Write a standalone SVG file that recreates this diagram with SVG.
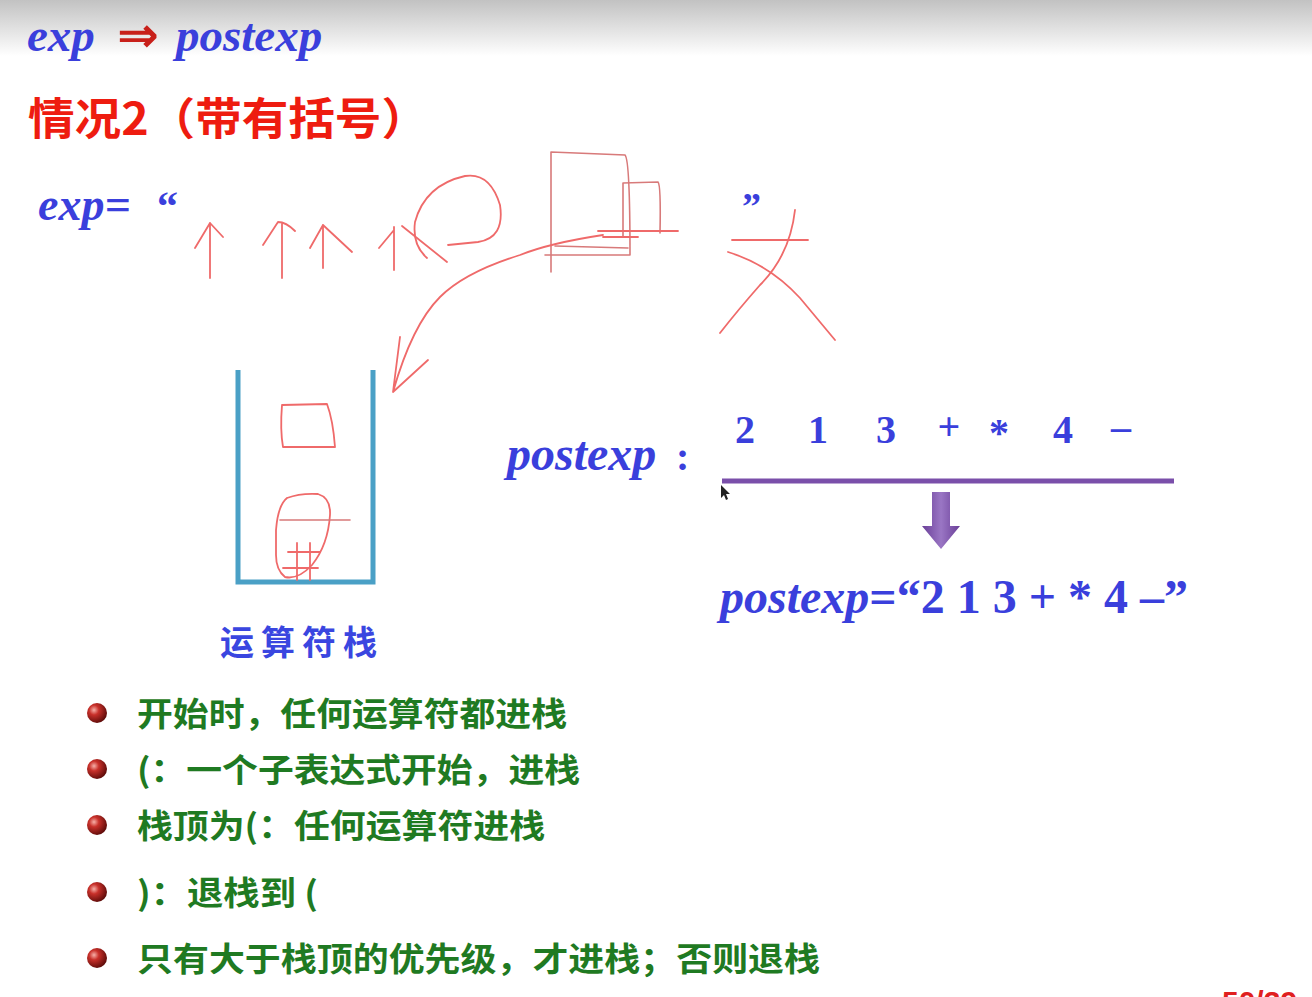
<svg xmlns="http://www.w3.org/2000/svg" width="1312" height="997" viewBox="0 0 1312 997">
  <defs>
    <linearGradient id="topband" x1="0" y1="0" x2="0" y2="1">
      <stop offset="0" stop-color="#c2c2c2"/>
      <stop offset="1" stop-color="#ffffff"/>
    </linearGradient>
    <radialGradient id="ball" cx="0.35" cy="0.35" r="0.7">
      <stop offset="0" stop-color="#f7b0a8"/>
      <stop offset="0.35" stop-color="#c8302a"/>
      <stop offset="1" stop-color="#5a0a08"/>
    </radialGradient>
    <linearGradient id="purple" x1="0" y1="0" x2="1" y2="0">
      <stop offset="0" stop-color="#6a3f98"/>
      <stop offset="0.5" stop-color="#9a76c4"/>
      <stop offset="1" stop-color="#6a3f98"/>
    </linearGradient>
    <style>
      .blue { fill: #3a3fdc; font-family: "Liberation Serif", serif; font-weight: bold; }
      .it { font-style: italic; }
      .red { fill: #ee1c10; }
      .cn { font-family: "Noto Sans CJK SC", sans-serif; font-weight: bold; }
      .green { fill: #1f7a22; font-family: "Noto Sans CJK SC", sans-serif; font-weight: bold; font-size: 33px; }
      .ink { fill: none; stroke: #ef6a6a; stroke-width: 1.8; stroke-linecap: round; stroke-linejoin: round; }
      .ink2 { fill: none; stroke: #d87a7a; stroke-width: 1.6; stroke-linecap: round; }
    </style>
  </defs>

  <rect width="1312" height="997" fill="#ffffff"/>
  <rect width="1312" height="56" fill="url(#topband)"/>

  <!-- heading -->
  <g id="heading">
    <text x="27" y="51" class="blue it" font-size="47">exp</text>
    <text x="117" y="52" font-family="DejaVu Sans, sans-serif" font-size="50" fill="#c8201a" font-weight="bold">⇒</text>
    <text x="176" y="51" class="blue it" font-size="47">postexp</text>
    <text x="28" y="135" class="cn red" font-size="44" textLength="400" lengthAdjust="spacingAndGlyphs">情况2（带有括号）</text>
  </g>

  <!-- input expression -->
  <g id="exp">
    <text x="38" y="220" class="blue it" font-size="46">exp=</text>
    <text x="157" y="220" class="blue" font-size="42">“</text>
    <text x="742" y="219" class="blue" font-size="38">”</text>
  </g>

  <!-- handwritten pointers and brackets -->
  <g id="handwriting">
    <path class="ink" d="M210 278 L210 223 M195 248 L210 223 L223 237"/>
    <path class="ink" d="M282 278 L282 224 M263 245 L278 222 Q286 222 295 231"/>
    <path class="ink" d="M323 268 L323 225 M310 248 L323 225 L352 252"/>
    <path class="ink" d="M394 270 L394 227 M379 248 L394 230 M402 226 L447 262"/>
    <path class="ink" d="M427 258 Q412 245 415 222 Q425 185 465 176 Q490 172 500 205 Q505 238 478 242 L448 245"/>
    <path class="ink2" d="M551 152 L551 272 M551 152 L625 155 Q630 160 630 255 M545 255 L630 255 M555 246 L628 248"/>
    <path class="ink2" d="M623 183 L623 237 M623 183 L658 182 Q661 185 660 233"/>
    <path class="ink" d="M598 231 L678 231 M603 237 L638 237"/>
    <path class="ink" d="M603 235 Q550 243 520 255 Q465 272 440 297 Q412 325 393 392 M400 337 L393 392 L428 360"/>
    <path class="ink" d="M732 240 L808 240 M795 210 Q790 255 760 285 Q738 310 720 333 M728 252 Q770 265 800 298 L835 340"/>
  </g>

  <!-- operator stack -->
  <g id="stack">
    <path d="M238 370 L238 582 L373 582 L373 370" fill="none" stroke="#4aa0c6" stroke-width="5"/>
    <path class="ink" d="M282 405 L327 404 Q333 420 335 447 L283 447 Q280 430 282 405"/>
    <path class="ink" d="M287 498 Q300 493 318 494 Q331 498 330 515 Q328 545 312 565 Q298 580 285 577 Q276 570 276 555 L276 530 Q278 505 287 498"/>
    <path class="ink2" d="M280 520 L350 520"/>
    <path class="ink" d="M288 552 L320 552 M283 568 L318 568 M297 543 L297 580 M310 543 L310 580"/>
    <text x="220" y="655" class="cn" fill="#3a46e0" font-size="34" letter-spacing="7">运算符栈</text>
  </g>

  <!-- postfix result -->
  <g id="postexp">
    <text x="507" y="470" class="blue it" font-size="48">postexp</text>
    <text x="676" y="470" class="blue" font-size="40">:</text>
    <g class="blue" font-size="40" text-anchor="middle">
      <text x="745" y="443">2</text>
      <text x="818" y="443">1</text>
      <text x="886" y="443">3</text>
      <text x="949" y="440">+</text>
      <text x="999" y="446">*</text>
      <text x="1063" y="443">4</text>
      <text x="1121" y="440">–</text>
    </g>
    <line x1="722" y1="481" x2="1174" y2="481" stroke="#7a4faa" stroke-width="5"/>
    <path d="M932 492 L950 492 L950 526 L960 526 L941 549 L922 526 L932 526 Z" fill="url(#purple)"/>
    <path d="M721 485 L721 498 L724 495 L726 500 L728 499 L726 494 L730 494 Z" fill="#222"/>
    <text x="720" y="613" class="blue" font-size="48"><tspan class="it">postexp</tspan>=“2 1 3 + * 4 –”</text>
  </g>

  <!-- rules -->
  <g id="rules">
    <circle cx="97" cy="713" r="10" fill="url(#ball)"/>
    <circle cx="97" cy="769" r="10" fill="url(#ball)"/>
    <circle cx="97" cy="825" r="10" fill="url(#ball)"/>
    <circle cx="97" cy="892" r="10" fill="url(#ball)"/>
    <circle cx="97" cy="958" r="10" fill="url(#ball)"/>
    <text x="137" y="726" class="green" textLength="430" lengthAdjust="spacingAndGlyphs">开始时，任何运算符都进栈</text>
    <text x="137" y="782" class="green" textLength="443" lengthAdjust="spacingAndGlyphs">(：一个子表达式开始，进栈</text>
    <text x="137" y="838" class="green" textLength="408" lengthAdjust="spacingAndGlyphs">栈顶为(：任何运算符进栈</text>
    <text x="137" y="905" class="green" textLength="181" lengthAdjust="spacingAndGlyphs">)：退栈到 (</text>
    <text x="137" y="971" class="green" textLength="683" lengthAdjust="spacingAndGlyphs">只有大于栈顶的优先级，才进栈；否则退栈</text>
  </g>

  <!-- page number -->
  <text x="1222" y="1012" fill="#e02020" font-family="Liberation Sans, sans-serif" font-weight="bold" font-size="30">50/39</text>
</svg>
